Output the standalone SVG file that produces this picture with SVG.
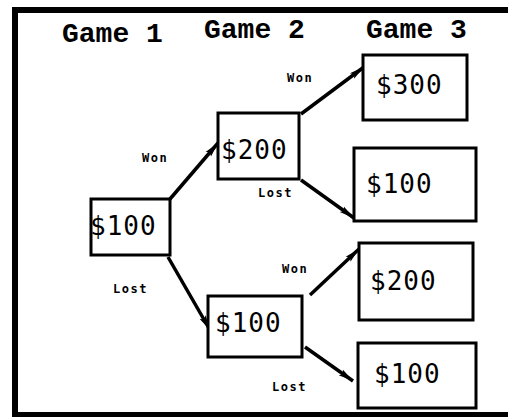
<svg xmlns="http://www.w3.org/2000/svg" width="508" height="417" viewBox="0 0 508 417">
<style>
.title{font-family:"Liberation Mono","Courier New",monospace;font-weight:bold;font-size:28px;fill:#000}
.box{fill:#fff;stroke:#000;stroke-width:3}
.val{font-family:"DejaVu Sans Mono",monospace;font-size:26px;letter-spacing:1px;fill:#000}
.lbl{font-family:"DejaVu Sans Mono",monospace;font-weight:bold;font-size:12px;letter-spacing:1.5px;fill:#000}
.edge{stroke:#000;stroke-width:3.5;fill:none;marker-end:url(#ah)}
</style>
<defs>
<marker id="ah" markerUnits="userSpaceOnUse" markerWidth="16" markerHeight="10" refX="15" refY="5" orient="auto">
<path d="M0,1.5 L15,5 L0,8.5 L3,5 Z" fill="#000"/>
</marker>
</defs>
<rect x="0" y="0" width="508" height="417" fill="#fff"/>
<rect x="15" y="10" width="600" height="405" fill="none" stroke="#000" stroke-width="6"/>
<g id="titles">
<text class="title" x="62" y="42">Game 1</text>
<text class="title" x="204" y="38">Game 2</text>
<text class="title" x="366" y="38">Game 3</text>
</g>
<g id="connectors">
<line class="edge" x1="170" y1="199" x2="218" y2="143"/>
<line class="edge" x1="301" y1="114" x2="364" y2="67"/>
<line class="edge" x1="301" y1="180" x2="354" y2="218"/>
<line class="edge" x1="168" y1="257" x2="210" y2="330"/>
<line class="edge" x1="310" y1="295" x2="359" y2="249"/>
<line class="edge" x1="305" y1="347" x2="353" y2="381"/>
</g>
<g id="labels">
<text class="lbl" x="142" y="162">Won</text>
<text class="lbl" x="258" y="197">Lost</text>
<text class="lbl" x="113" y="293">Lost</text>
<text class="lbl" x="272" y="391">Lost</text>
<text class="lbl" x="287" y="82">Won</text>
<text class="lbl" x="282" y="273">Won</text>
</g>
<g id="g1">
<rect class="box" x="91" y="199" width="79" height="56"/>
<text class="val" x="90" y="235">$100</text>
</g>
<g id="g2won">
<rect class="box" x="218" y="113" width="81" height="66"/>
<text class="val" x="221" y="159">$200</text>
</g>
<g id="g2lost">
<rect class="box" x="208" y="296" width="94" height="61"/>
<text class="val" x="215" y="332">$100</text>
</g>
<g id="g3ww">
<rect class="box" x="363" y="55" width="104" height="65"/>
<text class="val" x="376" y="94">$300</text>
</g>
<g id="g3wl">
<rect class="box" x="354" y="148" width="122" height="73"/>
<text class="val" x="366" y="193">$100</text>
</g>
<g id="g3lw">
<rect class="box" x="359" y="243" width="114" height="77"/>
<text class="val" x="370" y="290">$200</text>
</g>
<g id="g3ll">
<rect class="box" x="358" y="343" width="118" height="65"/>
<text class="val" x="374" y="383">$100</text>
</g>
</svg>
